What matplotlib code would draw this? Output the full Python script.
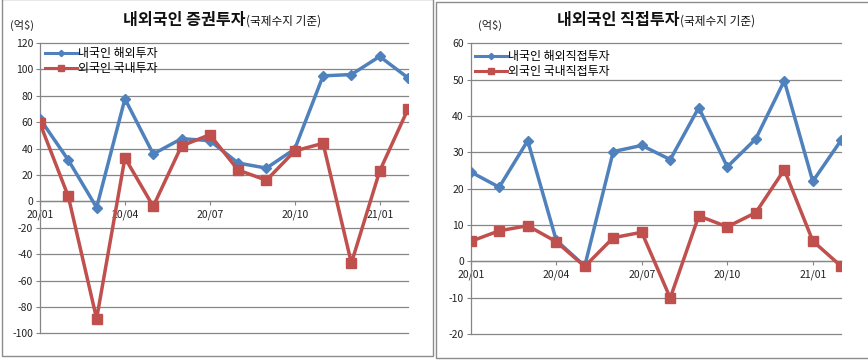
import matplotlib
matplotlib.use("Agg")
import matplotlib.pyplot as plt
from matplotlib.lines import Line2D
from matplotlib.patches import Rectangle

plt.rcParams['font.family'] = ['Noto Sans CJK KR', 'DejaVu Sans']

months = ["20/01", "20/02", "20/03", "20/04", "20/05", "20/06", "20/07",
          "20/08", "20/09", "20/10", "20/11", "20/12", "21/01", "21/02"]
tick_labels = ["20/01", "20/04", "20/07", "20/10", "21/01"]

# Left chart: securities investment (억$)
sec_outward = [62.5, 31.3, -4.7, 77.7, 35.9, 47.5, 46.0, 29.0, 25.2, 39.7, 95.1, 96.1, 109.8, 93.6]
sec_inward = [59.1, 3.7, -89.0, 33.0, -3.8, 42.0, 50.5, 23.7, 16.0, 38.2, 44.0, -46.8, 23.0, 70.0]

# Right chart: direct investment (억$)
fdi_outward = [24.6, 20.4, 33.2, 5.8, -1.3, 30.2, 31.9, 28.0, 42.3, 26.0, 33.7, 49.7, 22.0, 33.4]
fdi_inward = [5.5, 8.4, 9.8, 5.4, -1.4, 6.5, 8.0, -10.1, 12.5, 9.5, 13.4, 25.2, 5.6, -1.4]

BLUE = "#4F81BD"
RED = "#C0504D"
GRID = "#868686"

W, H = 868, 360
fig = plt.figure(figsize=(W / 100, H / 100), dpi=100)
fig.patch.set_facecolor("white")

# panel borders
fig.patches.append(Rectangle((2 / W, 1 - 356 / H), 431 / W, 357 / H, transform=fig.transFigure,
                             fill=False, edgecolor="#8c8c8c", lw=1.0))
fig.patches.append(Rectangle((436 / W, 1 - 358 / H), 440 / W, 356 / H, transform=fig.transFigure,
                             fill=False, edgecolor="#8c8c8c", lw=1.0))


def px(x0, y_top, x1, y_bot):
    return [x0 / W, 1 - y_bot / H, (x1 - x0) / W, (y_bot - y_top) / H]


def make_chart(rect, s1, s2, labels, ylim, ystep, title_main, title_x, unit_x, leg_anchor):
    ax = fig.add_axes(rect)
    x = list(range(len(months)))
    ax.plot(x, s1, color=BLUE, lw=2.5, marker="D", ms=5.5, mec=BLUE, mfc=BLUE, zorder=3)
    ax.plot(x, s2, color=RED, lw=2.5, marker="s", ms=6.5, mec=RED, mfc=RED, zorder=4)
    ax.set_xlim(0, len(months) - 1)
    ax.set_ylim(*ylim)
    yt = list(range(ylim[0], ylim[1] + 1, ystep))
    ax.set_yticks(yt)
    ax.set_yticklabels([str(v) for v in yt])
    ax.yaxis.grid(True, color=GRID, lw=0.9)
    for gl in ax.get_ygridlines():
        gl.set_clip_on(False)
    ax.set_axisbelow(True)
    ticks = [months.index(t) for t in tick_labels]
    ax.set_xticks(ticks)
    ax.set_xticklabels(tick_labels)
    for s in ["top", "right"]:
        ax.spines[s].set_visible(False)
    ax.spines["bottom"].set_position(("data", 0))
    ax.spines["bottom"].set_color(GRID)
    ax.spines["left"].set_color(GRID)
    ax.spines["bottom"].set_linewidth(0.9)
    ax.spines["left"].set_linewidth(0.9)
    ax.tick_params(axis="y", direction="out", length=3, color=GRID, labelsize=7.5, pad=2,
                   labelcolor="#222222")
    ax.tick_params(axis="x", direction="out", length=3, color=GRID, labelsize=7.5, pad=3,
                   labelcolor="#222222")
    ax.set_facecolor("none")

    handles = [Line2D([], [], color=BLUE, lw=2.2, marker="D", ms=3.2),
               Line2D([], [], color=RED, lw=2.2, marker="s", ms=4.2)]
    ax.legend(handles, labels, loc="upper left", bbox_to_anchor=leg_anchor,
              bbox_transform=fig.transFigure, frameon=False, fontsize=8.6,
              handlelength=2.65, handletextpad=0.15, labelspacing=0.2,
              borderpad=0, borderaxespad=0)

    fig.text(title_x / W, 1 - 25 / H, title_main, ha="right", va="baseline",
             fontsize=11.6, fontweight="bold", color="#111111")
    fig.text(title_x / W, 1 - 25 / H, "(국제수지 기준)", ha="left", va="baseline",
             fontsize=8.4, color="#111111")
    fig.text(unit_x / W, 1 - 25 / H, "(억$)", ha="left", va="center", fontsize=8,
             color="#222222")
    return ax


make_chart(px(40, 43, 408, 333.3), sec_outward, sec_inward,
           ["내국인 해외투자", "외국인 국내투자"], (-100, 120), 20,
           "내외국인 증권투자", 246, 10, (45 / W, 1 - 47 / H))

make_chart(px(470.7, 43.3, 841.3, 334), fdi_outward, fdi_inward,
           ["내국인 해외직접투자", "외국인 국내직접투자"], (-20, 60), 10,
           "내외국인 직접투자", 680, 478, (475 / W, 1 - 50 / H))

fig.savefig("out.png", dpi=100, facecolor="white")
